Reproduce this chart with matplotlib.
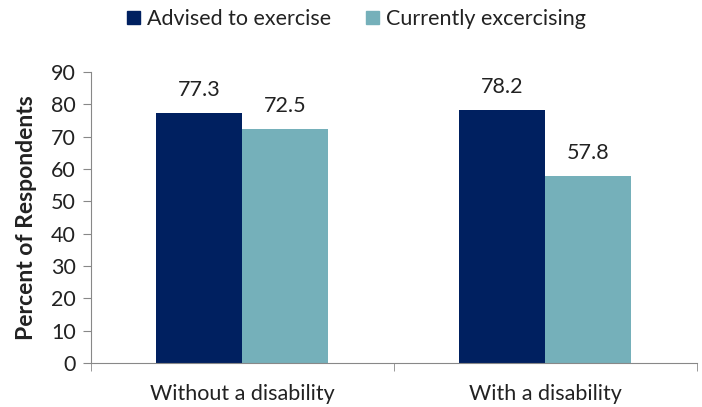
import matplotlib.pyplot as plt
import matplotlib.patches as mpatches
import numpy as np

groups = ['Without a disability', 'With a disability']
advised = [77.3, 78.2]
current = [72.5, 57.8]
series_names = ['Advised to exercise', 'Currently excercising']
colors = ['#002060', '#75B0BA']

plt.rcParams['font.family'] = ['Lato', 'DejaVu Sans']
plt.rcParams['font.size'] = 15.5

fig = plt.figure(figsize=(7.02, 4.07), dpi=100)
ax = fig.add_axes([0.1296, 0.108, 0.863, 0.715])

x = np.arange(len(groups))
w = 0.284
b1 = ax.bar(x - w / 2, advised, w, color=colors[0])
b2 = ax.bar(x + w / 2, current, w, color=colors[1])

for bars, vals in ((b1, advised), (b2, current)):
    for rect, v in zip(bars, vals):
        ax.annotate(f'{v:.1f}', (rect.get_x() + rect.get_width() / 2, v),
                    xytext=(0, 13), textcoords='offset pixels',
                    ha='center', va='bottom', color='#222222')

ax.set_xlim(-0.5, 1.5)
ax.set_ylim(0, 90)
ax.set_yticks(range(0, 91, 10))
ax.set_xticks(x)
ax.set_xticklabels(groups)
ax.set_xticks([-0.5, 0.5, 1.5], minor=True)
ax.tick_params(axis='x', which='major', length=0, pad=15)
ax.tick_params(axis='x', which='minor', length=6, color='#888888')
ax.tick_params(axis='y', length=6, color='#888888', pad=5, labelcolor='#222222')
ax.tick_params(axis='x', labelcolor='#222222')
for s in ['top', 'right']:
    ax.spines[s].set_visible(False)
for s in ['left', 'bottom']:
    ax.spines[s].set_color('#888888')
ax.set_ylabel('Percent of Respondents', labelpad=10, fontsize=16.5,
              fontweight='bold', color='#222222')

handles = [mpatches.Patch(color=c, label=n) for c, n in zip(colors, series_names)]
fig.legend(handles=handles, loc='center', bbox_to_anchor=(0.508, 0.953), ncol=2,
           frameon=False, handlelength=0.6, handleheight=0.6, handletextpad=0.35,
           columnspacing=1.6, labelcolor='#222222')

fig.savefig('out.png', dpi=100)
